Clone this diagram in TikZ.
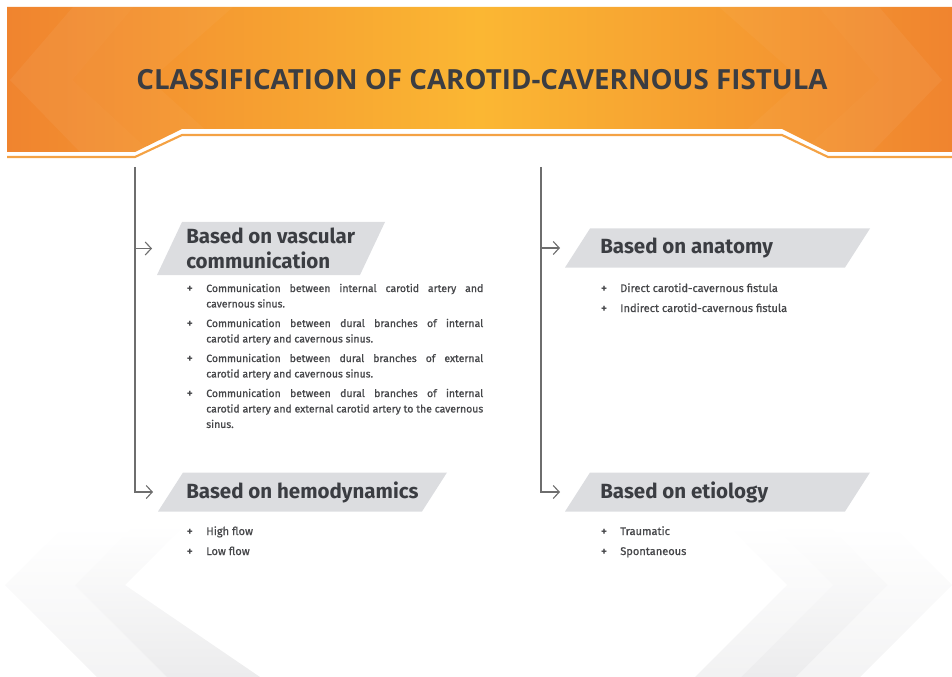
\documentclass[tikz,border=0pt]{standalone}
\usepackage{fontspec}
\setmainfont{Fira Sans}
\newfontfamily\titlefont{Open Sans}
\newfontfamily\itemfont{Fira Sans}[FakeBold=0.9]
\usetikzlibrary{arrows.meta, positioning, calc}
\newdimen\pxu \pxu=0.75pt
\definecolor{bandorange}{HTML}{F0842F}
\definecolor{bandyellow}{HTML}{FBB733}
\definecolor{lineorange}{HTML}{F4A244}
\definecolor{boxgray}{HTML}{DCDDE0}
\definecolor{hdrtext}{HTML}{3B3D42}
\definecolor{itemtext}{HTML}{46474A}
\definecolor{connectgray}{HTML}{6E6E6E}
\definecolor{ghost}{HTML}{ECECED}
\tikzset{
  hdrbox/.style={inner sep=0, outer sep=0, minimum height=39\pxu,
    path picture={\fill[boxgray] (path picture bounding box.south west)
      -- ([xshift=25\pxu]path picture bounding box.north west)
      -- (path picture bounding box.north east)
      -- ([xshift=-25\pxu]path picture bounding box.south east) -- cycle;}},
  hdrlabel/.style={anchor=west, inner sep=0, align=left, text=hdrtext,
    font=\fontsize{15.4}{18.5}\selectfont\bfseries},
  bul/.style={anchor=base, inner sep=0, text=itemtext, font=\fontsize{8.5}{9}\selectfont\bfseries},
  itemtxt/.style={anchor=base west, inner sep=0, text=itemtext, text width=277\pxu,
    align=justify, font=\itemfont\fontsize{7.85}{11.6}\selectfont},
  itemline/.style={anchor=base west, inner sep=0, text=itemtext,
    font=\itemfont\fontsize{8.3}{11.6}\selectfont},
  connect/.style={connectgray, line width=0.85pt},
  connect arrow/.style={connect, -{Straight Barb[length=4.5pt, width=9.75pt]}, shorten >=3.75pt}
}

\begin{document}
\begin{tikzpicture}[x=0.75pt, y=-0.75pt]
  \useasboundingbox (0,0) rectangle (952,677);

  % faint chevrons at the bottom
  \shade[top color=white, bottom color=ghost!60] (65,525) -- (5,585) -- (97,677) -- (167,677) -- (75,585) -- (135,525) -- cycle;
  \shade[top color=white, bottom color=ghost] (135,525) -- (75,585) -- (167,677) -- (260,677) -- (125,585) -- (185,525) -- cycle;
  \shade[top color=white, bottom color=ghost!70] (727,525) -- (787,585) -- (695,677) -- (741,677) -- (833,585) -- (773,525) -- cycle;
  \shade[top color=white, bottom color=ghost] (773,525) -- (833,585) -- (741,677) -- (796,677) -- (888,585) -- (828,525) -- cycle;
  \shade[top color=white, bottom color=ghost!60] (828,525) -- (888,585) -- (796,677) -- (860,677) -- (952,585) -- (892,525) -- cycle;

  % orange band
  \shade[left color=bandorange, right color=bandorange, middle color=bandyellow]
    (7,7) -- (952,7) -- (952,152) -- (828,152) -- (782,129) -- (182,129) -- (135,152) -- (7,152) -- cycle;
  \begin{scope}
    \clip (7,7) -- (952,7) -- (952,152) -- (828,152) -- (782,129) -- (182,129) -- (135,152) -- (7,152) -- cycle;
    \fill[white, opacity=0.05] (73,7) -- (10,80) -- (80,152) -- (150,152) -- (72,80) -- (133,7) -- cycle;
    \fill[white, opacity=0.035] (133,7) -- (72,80) -- (150,152) -- (230,152) -- (150,80) -- (233,7) -- cycle;
    \fill[white, opacity=0.05] (879,7) -- (942,80) -- (872,152) -- (802,152) -- (880,80) -- (819,7) -- cycle;
    \fill[white, opacity=0.035] (819,7) -- (880,80) -- (802,152) -- (722,152) -- (802,80) -- (719,7) -- cycle;
  \end{scope}
  \draw[lineorange, line width=1.6pt] (7,157) -- (135,157) -- (182,135) -- (782,135) -- (828,157) -- (952,157);

  % title
  \node[text=hdrtext, font=\titlefont\bfseries\fontsize{20.8}{24}\selectfont] (title) at (482,80) {CLASSIFICATION OF CAROTID-CAVERNOUS FISTULA};

  % header boxes
  \node[hdrbox, minimum width=228\pxu, minimum height=53\pxu] (vasc) at (271,248.5) {};
  \node[hdrlabel] (vascl) at (186,248.5) {Based on vascular\\communication};
  \node[hdrbox, minimum width=289\pxu] (hemo) at (302.5,492) {};
  \node[hdrlabel] (hemol) at (186,492) {Based on hemodynamics};
  \node[hdrbox, minimum width=305\pxu] (anat) at (717.5,248) {};
  \node[hdrlabel] (anatl) at (600,248) {Based on anatomy};
  \node[hdrbox, minimum width=305\pxu] (etio) at (717.5,492) {};
  \node[hdrlabel] (etiol) at (600,492) {Based on etiology};

  % connectors
  \coordinate (ltop) at (135,167);
  \coordinate (rtop) at (541,167);
  \draw[connect arrow] (ltop) |- (hemo.west);
  \draw[connect arrow] (vasc.west -| ltop) -- (vasc.west);
  \draw[connect arrow] (rtop) |- (etio.west);
  \draw[connect arrow] (anat.west -| rtop) -- (anat.west);

  % vascular communication
  \node[bul] (v1) at (190,292) {+};
  \node[itemtxt] (v1t) at (206,292) {Communication between internal carotid artery and\linebreak cavernous sinus.};
  \node[bul] (v2) at (190,327) {+};
  \node[itemtxt] (v2t) at (206,327) {Communication between dural branches of internal\linebreak carotid artery and cavernous sinus.};
  \node[bul] (v3) at (190,362) {+};
  \node[itemtxt] (v3t) at (206,362) {Communication between dural branches of external\linebreak carotid artery and cavernous sinus.};
  \node[bul] (v4) at (190,397) {+};
  \node[itemtxt] (v4t) at (206,397) {Communication between dural branches of internal\linebreak carotid artery and external carotid artery to the cavernous\linebreak sinus.};

  % anatomy
  \node[bul] (a1) at (604,292) {+};
  \node[itemline] (a1t) at (620,292) {Direct carotid-cavernous fistula};
  \node[bul] (a2) at (604,312) {+};
  \node[itemline] (a2t) at (620,312) {Indirect carotid-cavernous fistula};

  % hemodynamics
  \node[bul] (h1) at (190,535) {+};
  \node[itemline] (h1t) at (206,535) {High flow};
  \node[bul] (h2) at (190,555) {+};
  \node[itemline] (h2t) at (206,555) {Low flow};

  % etiology
  \node[bul] (e1) at (604,535) {+};
  \node[itemline] (e1t) at (620,535) {Traumatic};
  \node[bul] (e2) at (604,555) {+};
  \node[itemline] (e2t) at (620,555) {Spontaneous};
\end{tikzpicture}
\end{document}
